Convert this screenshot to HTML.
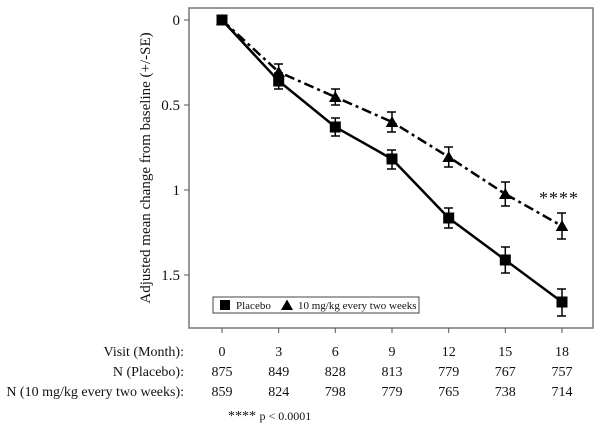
<!DOCTYPE html>
<html><head><meta charset="utf-8"><style>
body{margin:0;background:#fff;}
svg{display:block;font-family:"Liberation Serif",serif;}
</style></head><body>
<svg width="601" height="427" viewBox="0 0 601 427">
<rect x="189" y="8" width="404" height="320" fill="none" stroke="#777" stroke-width="1.5"/>
<g stroke="#555" stroke-width="1">
<line x1="184" y1="20" x2="189" y2="20"/><line x1="184" y1="105" x2="189" y2="105"/>
<line x1="184" y1="190" x2="189" y2="190"/><line x1="184" y1="275" x2="189" y2="275"/>
<line x1="222" y1="328" x2="222" y2="333"/><line x1="278.7" y1="328" x2="278.7" y2="333"/>
<line x1="335.3" y1="328" x2="335.3" y2="333"/><line x1="392" y1="328" x2="392" y2="333"/>
<line x1="448.7" y1="328" x2="448.7" y2="333"/><line x1="505.3" y1="328" x2="505.3" y2="333"/>
<line x1="562" y1="328" x2="562" y2="333"/>
</g>
<g font-size="15" text-anchor="end" fill="#111">
<text x="180" y="25">0</text><text x="180" y="110">0.5</text><text x="180" y="195">1</text><text x="180" y="280">1.5</text>
</g>
<text transform="translate(150,168) rotate(-90)" font-size="15" text-anchor="middle" fill="#111">Adjusted mean change from baseline (+/-SE)</text>
<!-- treatment -->
<polyline points="222,20 278.7,72 335.3,97 392,122 448.7,157 505.3,194 562,226" fill="none" stroke="#000" stroke-width="2.5" stroke-dasharray="10,4,3,4"/>
<g stroke="#000" stroke-width="1.5" fill="none">
<path d="M274,64h9M278.7,64v16M274,80h9"/>
<path d="M331,89h9M335.3,89v16M331,105h9"/>
<path d="M387,112h9M392,112v20M387,132h9"/>
<path d="M444,147h9M448.7,147v20M444,167h9"/>
<path d="M501,182h9M505.3,182v24M501,206h9"/>
<path d="M557,213h9M562,213v26M557,239h9"/>
</g>
<g fill="#000">
<polygon points="222,14 228,25 216,25"/>
<polygon points="278.7,66 285,77 272.4,77"/>
<polygon points="335.3,91 341.6,102 329,102"/>
<polygon points="392,116 398.3,127 385.7,127"/>
<polygon points="448.7,151 455,162 442.4,162"/>
<polygon points="505.3,188 511.6,199 499,199"/>
<polygon points="562,220 568.3,231 555.7,231"/>
</g>
<!-- placebo -->
<polyline points="222,20 278.7,81 335.3,127 392,159 448.7,218 505.3,260 562,302" fill="none" stroke="#000" stroke-width="2.5"/>
<g stroke="#000" stroke-width="1.5" fill="none">
<path d="M274,73h9M278.7,73v16M274,89h9"/>
<path d="M331,118h9M335.3,118v18M331,136h9"/>
<path d="M387,150h9M392,150v19M387,169h9"/>
<path d="M444,208h9M448.7,208v20M444,228h9"/>
<path d="M501,247h9M505.3,247v26M501,273h9"/>
<path d="M557,289h9M562,289v27M557,316h9"/>
</g>
<g fill="#000">
<rect x="216.5" y="14.5" width="11" height="11"/>
<rect x="273.2" y="75.5" width="11" height="11"/>
<rect x="329.8" y="121.5" width="11" height="11"/>
<rect x="386.5" y="153.5" width="11" height="11"/>
<rect x="443.2" y="212.5" width="11" height="11"/>
<rect x="499.8" y="254.5" width="11" height="11"/>
<rect x="556.5" y="296.5" width="11" height="11"/>
</g>
<text x="539" y="204" font-size="18" letter-spacing="1" fill="#111">****</text>
<!-- legend -->
<rect x="213" y="297" width="206" height="16" fill="#fff" stroke="#444" stroke-width="1"/>
<rect x="220" y="300" width="10" height="10" fill="#000"/>
<text x="236" y="309" font-size="11" fill="#111">Placebo</text>
<polygon points="287,299.5 293,310 281,310" fill="#000"/>
<text x="298" y="309" font-size="11" fill="#111">10 mg/kg every two weeks</text>
<!-- table -->
<g font-size="14" fill="#111">
<text x="184" y="356" text-anchor="end">Visit (Month):</text>
<text x="184" y="376" text-anchor="end">N (Placebo):</text>
<text x="184" y="396" text-anchor="end">N (10 mg/kg every two weeks):</text>
</g>
<g font-size="14" fill="#111" text-anchor="middle">
<text x="222" y="356">0</text><text x="278.7" y="356">3</text><text x="335.3" y="356">6</text><text x="392" y="356">9</text><text x="448.7" y="356">12</text><text x="505.3" y="356">15</text><text x="562" y="356">18</text>
<text x="222" y="376">875</text><text x="278.7" y="376">849</text><text x="335.3" y="376">828</text><text x="392" y="376">813</text><text x="448.7" y="376">779</text><text x="505.3" y="376">767</text><text x="562" y="376">757</text>
<text x="222" y="396">859</text><text x="278.7" y="396">824</text><text x="335.3" y="396">798</text><text x="392" y="396">779</text><text x="448.7" y="396">765</text><text x="505.3" y="396">738</text><text x="562" y="396">714</text>
</g>
<text x="228" y="420" font-size="14" fill="#111">**** <tspan font-size="12">p &lt; 0.0001</tspan></text>
</svg>
</body></html>
